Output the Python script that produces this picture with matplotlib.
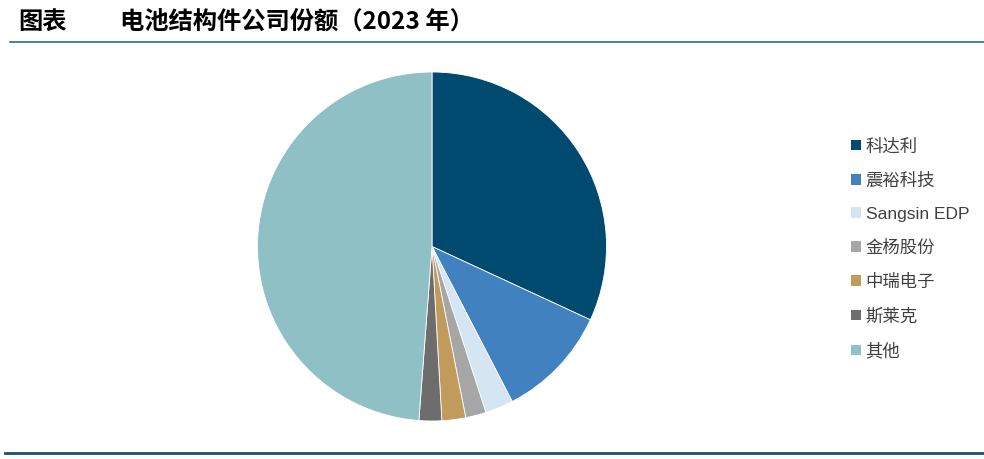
import matplotlib
matplotlib.use("Agg")
import matplotlib.pyplot as plt
from matplotlib.patches import Patch
from matplotlib.lines import Line2D

plt.rcParams['font.family'] = ['Noto Sans CJK SC', 'DejaVu Sans']

companies = ['科达利', '震裕科技', 'Sangsin EDP', '金杨股份', '中瑞电子', '斯莱克', '其他']
shares = [31.9, 10.5, 2.6, 1.9, 2.2, 2.1, 48.8]
colors = ['#004A70', '#4281BF', '#D5E5F2', '#A6A6A6', '#C09B5B', '#6D6D6D', '#8FC0C6']
title_left = '图表'
title_main = '电池结构件公司份额（2023 年）'

W, H = 984, 459
fig = plt.figure(figsize=(W / 100, H / 100), dpi=100)

cx, cy, r = 432, 246.5, 174.5
ax = fig.add_axes([(cx - r) / W, (H - cy - r) / H, 2 * r / W, 2 * r / H])
ax.pie(shares, colors=colors, startangle=90, counterclock=False, radius=1,
       wedgeprops=dict(linewidth=0.6, edgecolor='white'))
ax.set_xlim(-1, 1)
ax.set_ylim(-1, 1)
ax.set_aspect('equal')
ax.axis('off')

# Title
fig.text(18 / W, 1 - 22 / H, title_left, fontsize=17.5, fontweight='bold',
         va='center', ha='left', color='black')
fig.text(120 / W, 1 - 22 / H, title_main, fontsize=17.5, fontweight='bold',
         va='center', ha='left', color='black')

# Rules
fig.add_artist(Line2D([10 / W, 1], [1 - 42 / H, 1 - 42 / H], transform=fig.transFigure,
                      color='#2E6A92', linewidth=1.2))
fig.add_artist(Line2D([5 / W, 1], [1 - 453 / H, 1 - 453 / H], transform=fig.transFigure,
                      color='#1B4F72', linewidth=2.0))

handles = [Patch(facecolor=c, edgecolor='none') for c in colors]
leg = fig.legend(handles, companies, loc='upper left',
                 bbox_to_anchor=(851 / W, 1 - 138 / H), frameon=False,
                 prop=dict(family=['Liberation Sans', 'Noto Sans CJK SC'], size=12.5),
                 handlelength=0.55, handleheight=0.55,
                 handletextpad=0.3, labelspacing=1.04, borderpad=0, borderaxespad=0)
for t in leg.get_texts():
    t.set_color('#404040')

fig.savefig('out.png', dpi=100)
